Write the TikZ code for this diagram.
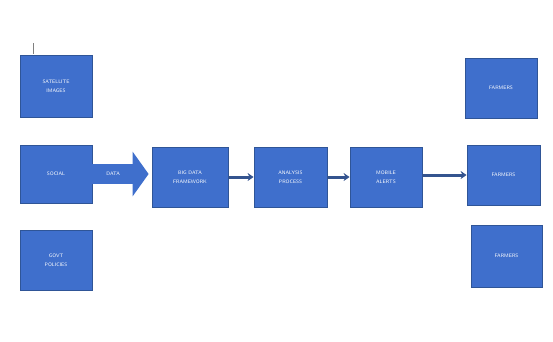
\documentclass[tikz,border=0pt]{standalone}
\usepackage{tikz}
\usetikzlibrary{arrows.meta,positioning}
\definecolor{boxblue}{HTML}{3F6FCC}
\definecolor{edgeblue}{HTML}{2F5597}
\definecolor{linkblue}{HTML}{34548F}
\tikzset{blk/.style={draw=edgeblue,line width=0.8pt,fill=boxblue,text=white,align=center,
  font=\fontsize{5}{9}\selectfont\sffamily,inner sep=1pt}}

\begin{document}
\begin{tikzpicture}[x=1pt,y=-1pt,>={Stealth[length=6pt,width=8pt]}]
\useasboundingbox (0,0) rectangle (553,341);
\node[blk,minimum width=72pt,minimum height=62pt] (sat) at (56,86) {SATELLITE\\IMAGES};
\node[blk,minimum width=72pt,minimum height=58pt] (soc) at (56,174) {SOCIAL};
\node[blk,minimum width=72pt,minimum height=60pt] (gov) at (56,260) {GOVT\\POLICIES};
\node[blk,minimum width=76pt,minimum height=60pt] (bdf) at (190,177) {BIG DATA\\FRAMEWORK};
\node[blk,minimum width=73pt,minimum height=60pt] (ana) at (290.5,177) {ANALYSIS\\PROCESS};
\node[blk,minimum width=72pt,minimum height=60pt] (mob) at (386,177) {MOBILE\\ALERTS};
\node[blk,minimum width=72pt,minimum height=60pt] (fa1) at (501,88) {FARMERS};
\node[blk,minimum width=73pt,minimum height=60pt] (fa2) at (503.5,175) {FARMERS};
\node[blk,minimum width=71pt,minimum height=62pt] (fa3) at (506.5,256) {FARMERS};
% data arrow
\draw[boxblue,line width=20pt,-{Triangle[length=16pt,width=44pt]},shorten >=3pt]
  (soc.east) -- node[pos=0.35,text=white,font=\fontsize{5}{6}\selectfont\sffamily]{DATA} (bdf.west|-soc.east);
\draw[->,linkblue,line width=3pt] (bdf) -- (ana);
\draw[->,linkblue,line width=3pt] (ana) -- (mob);
\draw[->,linkblue,line width=3pt] (mob.east|-fa2) -- (fa2);
\draw[gray,line width=0.6pt] (33,43) -- (33,54);
\end{tikzpicture}
\end{document}
